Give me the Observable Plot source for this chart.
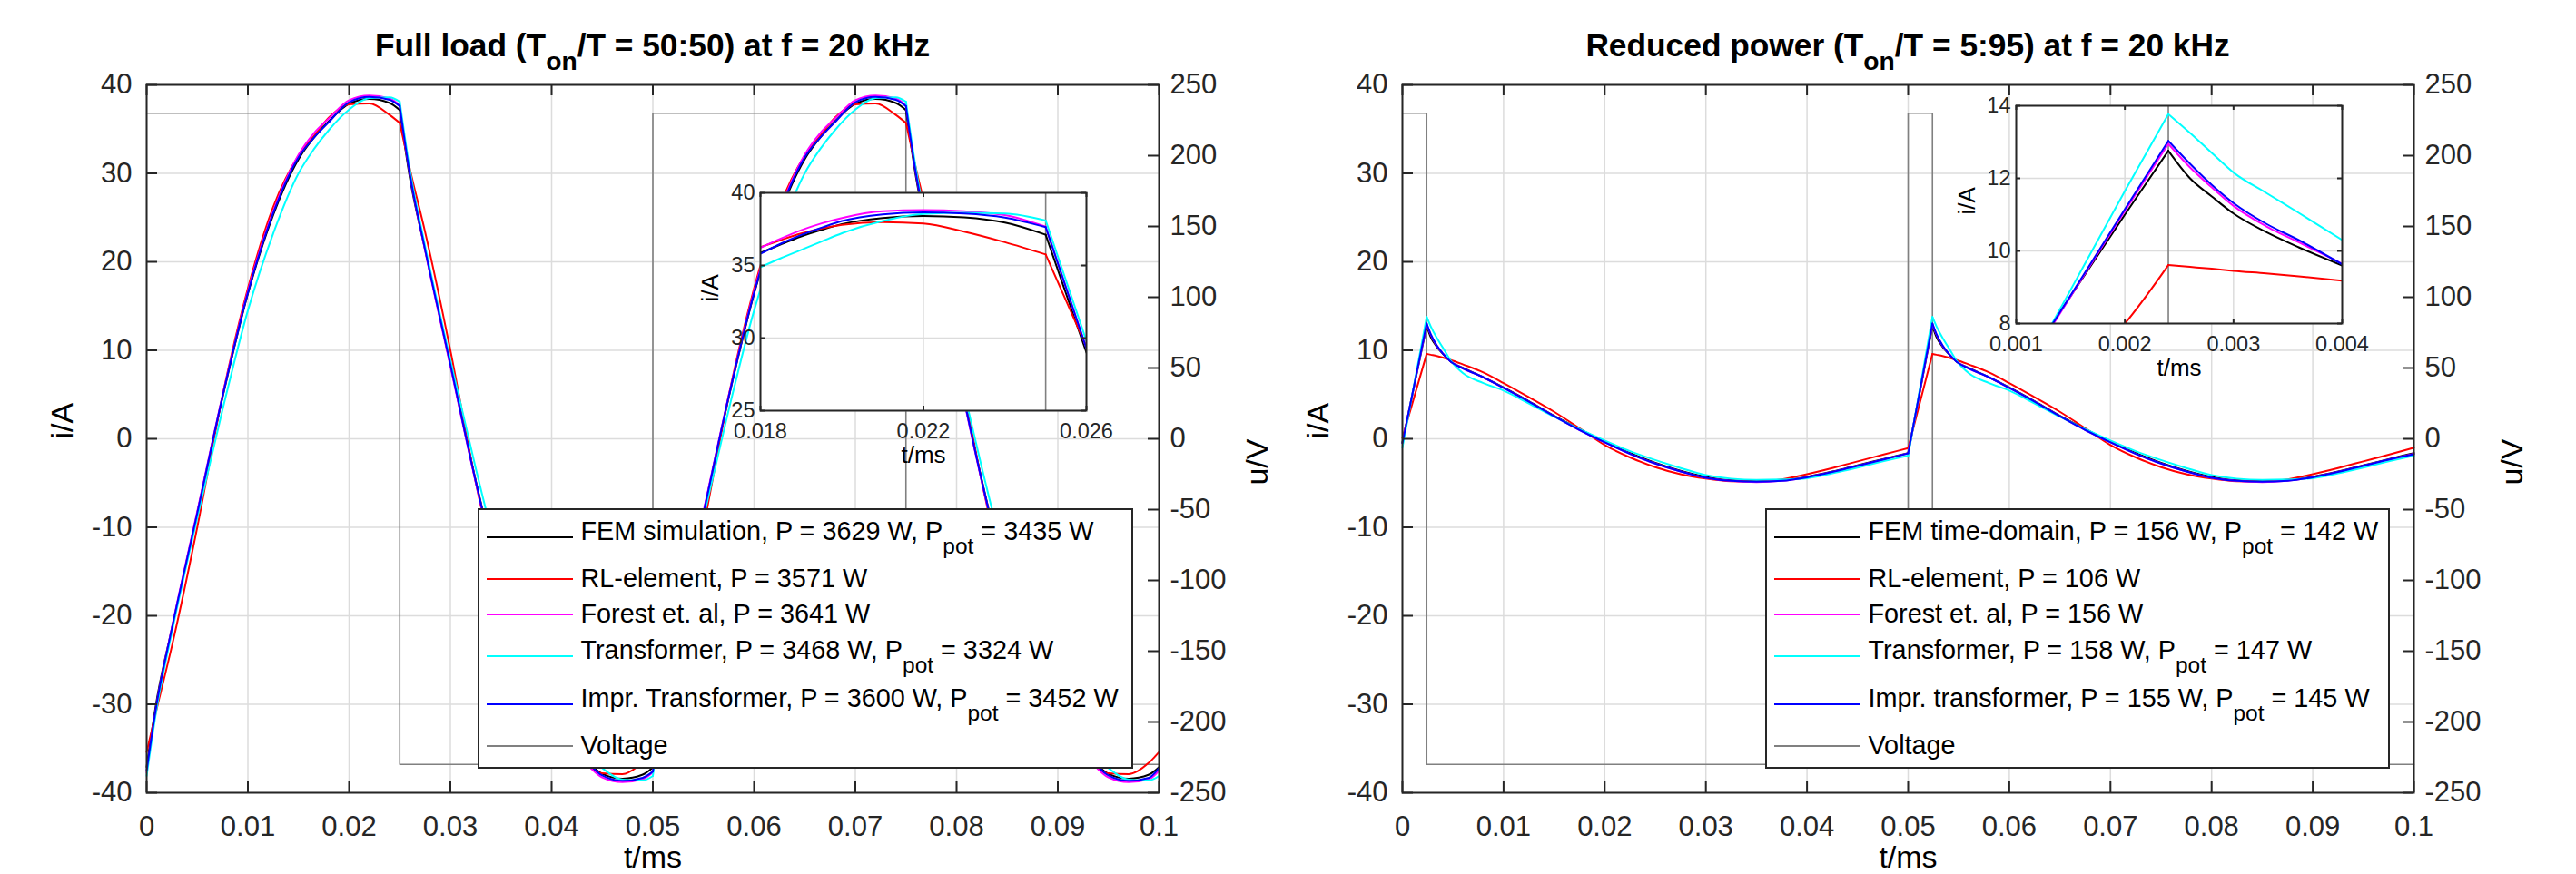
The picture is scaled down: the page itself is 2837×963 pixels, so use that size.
<!DOCTYPE html>
<html>
<head>
<meta charset="utf-8">
<script src="https://cdn.jsdelivr.net/npm/d3@7"></script>
<script src="https://cdn.jsdelivr.net/npm/@observablehq/plot@0.6"></script>
<style>
html, body { margin: 0; padding: 0; background: #fff; }
#root { position: relative; width: 2837px; height: 963px; overflow: hidden; background: #fff;
  font-family: "Liberation Sans", Arial, Helvetica, sans-serif; color: #000; }
.title { position: absolute; font-weight: bold; font-size: 35.3px; line-height: 1; white-space: nowrap; transform: translateX(-50%); }
.title .sub { position: relative; top: 15px; font-size: 0.8em; }
.legend { position: absolute; background: #fff; border: 2px solid #262626; box-sizing: border-box; }
.legend .ltext { position: absolute; font-size: 28.8px; line-height: 1; white-space: nowrap; }
.legend .sub { position: relative; top: 15px; font-size: 0.85em; }
</style>
</head>
<body>
<div id="root"></div>
<script>
// ---------------- data ----------------
const xTicks = [0, 0.01, 0.02, 0.03, 0.04, 0.05, 0.06, 0.07, 0.08, 0.09, 0.1];
const iTicks = [-40, -30, -20, -10, 0, 10, 20, 30, 40];
const uTicks = [-250, -200, -150, -100, -50, 0, 50, 100, 150, 200, 250];

const seriesColors = ["#000000", "#ff0000", "#ff00ff", "#00ffff", "#0000ff"];
const voltageColor = "#808080";

// Full load (50:50)
const tFull = [
  0, 0.001, 0.0025, 0.005, 0.0075, 0.01, 0.0125, 0.015, 0.0165, 0.018, 0.02, 0.022, 0.024, 0.025,
  0.026, 0.0275, 0.03, 0.0325, 0.035, 0.0375, 0.04, 0.0415, 0.043, 0.045, 0.047, 0.049, 0.05,
  0.051, 0.0525, 0.055, 0.0575, 0.06, 0.0625, 0.065, 0.0665, 0.068, 0.07, 0.072, 0.074, 0.075,
  0.076, 0.0775, 0.08, 0.0825, 0.085, 0.0875, 0.09, 0.0915, 0.093, 0.095, 0.097, 0.099, 0.1];
const fullFEM = [
  -37.1, -29.5, -21.4, -8.4, 4.7, 16.4, 25.3, 31.6, 34.0, 35.9, 37.85, 38.4, 37.95, 37.15,
  29.5, 21.4, 8.4, -4.7, -16.4, -25.3, -31.6, -34.0, -35.9, -37.85, -38.4, -37.95, -37.15,
  -29.5, -21.4, -8.4, 4.7, 16.4, 25.3, 31.6, 34.0, 35.9, 37.85, 38.4, 37.95, 37.15,
  29.5, 21.4, 8.4, -4.7, -16.4, -25.3, -31.6, -34.0, -35.9, -37.85, -38.4, -37.95, -37.1];
const fullRL = [
  -35.4, -30.5, -23.4, -10.0, 4.9, 17.0, 26.2, 32.0, 34.2, 36.3, 37.8, 37.9, 36.6, 35.7,
  30.5, 23.4, 10.0, -4.9, -17.0, -26.2, -32.0, -34.2, -36.3, -37.8, -37.9, -36.6, -35.7,
  -30.5, -23.4, -10.0, 4.9, 17.0, 26.2, 32.0, 34.2, 36.3, 37.8, 37.9, 36.6, 35.7,
  30.5, 23.4, 10.0, -4.9, -17.0, -26.2, -32.0, -34.2, -36.3, -37.8, -37.9, -36.6, -35.4];
const fullForest = [
  -37.7, -29.9, -21.3, -8.2, 4.9, 16.7, 25.7, 32.1, 34.5, 36.2, 38.27, 38.8, 38.47, 37.7,
  29.9, 21.3, 8.2, -4.9, -16.7, -25.7, -32.1, -34.5, -36.2, -38.27, -38.8, -38.47, -37.7,
  -29.9, -21.3, -8.2, 4.9, 16.7, 25.7, 32.1, 34.5, 36.2, 38.27, 38.8, 38.47, 37.7,
  29.9, 21.3, 8.2, -4.9, -16.7, -25.7, -32.1, -34.5, -36.2, -38.27, -38.8, -38.47, -37.5];
const fullTrans = [
  -38.1, -30.4, -21.8, -8.9, 3.3, 14.5, 23.2, 30.0, 32.7, 34.9, 37.2, 38.5, 38.6, 38.1,
  30.4, 21.8, 8.9, -3.3, -14.5, -23.2, -30.0, -32.7, -34.9, -37.2, -38.5, -38.6, -38.1,
  -30.4, -21.8, -8.9, 3.3, 14.5, 23.2, 30.0, 32.7, 34.9, 37.2, 38.5, 38.6, 38.1,
  30.4, 21.8, 8.9, -3.3, -14.5, -23.2, -30.0, -32.7, -34.9, -37.2, -38.5, -38.6, -38.1];
const fullImpr = [
  -37.5, -29.9, -21.4, -8.4, 4.8, 16.5, 25.5, 31.8, 34.0, 35.8, 38.05, 38.65, 38.3, 37.6,
  29.9, 21.4, 8.4, -4.8, -16.5, -25.5, -31.8, -34.0, -35.8, -38.05, -38.65, -38.3, -37.6,
  -29.9, -21.4, -8.4, 4.8, 16.5, 25.5, 31.8, 34.0, 35.8, 38.05, 38.65, 38.3, 37.6,
  29.9, 21.4, 8.4, -4.8, -16.5, -25.5, -31.8, -34.0, -35.8, -38.05, -38.65, -38.3, -37.2];
const voltTFull = [0, 0.025, 0.05, 0.075, 0.1];
const voltUFull = [230, -230, 230, -230, -230];

// Full load inset
const insetFullXTicks = [0.018, 0.022, 0.026];
const insetFullYTicks = [25, 30, 35, 40];
const insetFullT = [0.018, 0.0185, 0.019, 0.0195, 0.02, 0.021, 0.022, 0.023, 0.024, 0.025, 0.026];
const insetFullFEM    = [35.86, 36.45, 37.0, 37.45, 37.85, 38.27, 38.41, 38.31, 37.95, 37.12, 29.0];
const insetFullRL     = [36.26, 36.75, 37.2, 37.55, 37.8, 37.99, 37.89, 37.33, 36.6, 35.76, 29.4];
const insetFullForest = [36.22, 36.85, 37.43, 37.9, 38.27, 38.73, 38.81, 38.73, 38.47, 37.68, 29.3];
const insetFullTrans  = [34.88, 35.5, 36.07, 36.65, 37.22, 38.06, 38.54, 38.62, 38.58, 38.1, 29.8];
const insetFullImpr   = [35.8, 36.5, 37.1, 37.6, 38.06, 38.52, 38.66, 38.58, 38.3, 37.64, 29.28];

// Reduced power (5:95)
const tRed = [
  0, 0.0024, 0.0028, 0.0034, 0.004, 0.0048, 0.006, 0.008, 0.01, 0.0125, 0.015, 0.0175, 0.02, 0.0225,
  0.025, 0.0275, 0.03, 0.0325, 0.035, 0.0375, 0.04, 0.0425, 0.045, 0.0475,
  0.05, 0.0524, 0.0528, 0.0534, 0.054, 0.0548, 0.056, 0.058, 0.06, 0.0625, 0.065, 0.0675, 0.07, 0.0725,
  0.075, 0.0775, 0.08, 0.0825, 0.085, 0.0875, 0.09, 0.0925, 0.095, 0.0975, 0.1];
const redFEM = [
  -0.4, 12.76, 11.5, 10.4, 9.6, 8.7, 8.0, 6.95, 5.8, 4.25, 2.6, 1.1, -0.35, -1.6,
  -2.7, -3.6, -4.3, -4.7, -4.8, -4.7, -4.3, -3.7, -3.0, -2.3,
  -1.6, 12.76, 11.5, 10.4, 9.6, 8.7, 8.0, 6.95, 5.8, 4.25, 2.6, 1.1, -0.35, -1.6,
  -2.7, -3.6, -4.3, -4.7, -4.8, -4.7, -4.3, -3.7, -3.0, -2.3, -1.6];
const redRL = [
  0.1, 9.6, 9.5, 9.35, 9.18, 8.9, 8.4, 7.5, 6.3, 4.7, 3.05, 1.2, -0.7, -2.1,
  -3.2, -4.0, -4.5, -4.8, -4.85, -4.6, -4.0, -3.3, -2.55, -1.8,
  -1.05, 9.6, 9.5, 9.35, 9.18, 8.9, 8.4, 7.5, 6.3, 4.7, 3.05, 1.2, -0.7, -2.1,
  -3.2, -4.0, -4.5, -4.8, -4.85, -4.6, -4.0, -3.3, -2.55, -1.8, -1.0];
const redForest = [
  -0.5, 12.95, 11.75, 10.5, 9.65, 8.72, 7.95, 6.95, 5.75, 4.2, 2.55, 1.0, -0.4, -1.7,
  -2.8, -3.7, -4.4, -4.75, -4.9, -4.75, -4.35, -3.75, -3.05, -2.35,
  -1.65, 12.95, 11.75, 10.5, 9.65, 8.72, 7.95, 6.95, 5.75, 4.2, 2.55, 1.0, -0.4, -1.7,
  -2.8, -3.7, -4.4, -4.75, -4.9, -4.75, -4.35, -3.75, -3.05, -2.35, -1.7];
const redTrans = [
  -1.0, 13.77, 12.7, 11.4, 10.3, 8.8, 7.4, 6.3, 5.45, 4.0, 2.5, 1.1, -0.2, -1.4,
  -2.4, -3.3, -4.1, -4.5, -4.65, -4.6, -4.45, -3.9, -3.25, -2.55,
  -1.9, 13.77, 12.7, 11.4, 10.3, 8.8, 7.4, 6.3, 5.45, 4.0, 2.5, 1.1, -0.2, -1.4,
  -2.4, -3.3, -4.1, -4.5, -4.65, -4.6, -4.45, -3.9, -3.25, -2.55, -1.9];
const redImpr = [
  -0.5, 13.03, 11.82, 10.55, 9.63, 8.7, 7.95, 6.95, 5.75, 4.2, 2.55, 1.0, -0.4, -1.7,
  -2.8, -3.7, -4.4, -4.75, -4.85, -4.75, -4.35, -3.75, -3.05, -2.35,
  -1.65, 13.03, 11.82, 10.55, 9.63, 8.7, 7.95, 6.95, 5.75, 4.2, 2.55, 1.0, -0.4, -1.7,
  -2.8, -3.7, -4.4, -4.75, -4.85, -4.75, -4.35, -3.75, -3.05, -2.35, -1.75];
const voltTRed = [0, 0.0024, 0.05, 0.0524, 0.1];
const voltURed = [230, -230, 230, -230, -230];

// Reduced power inset
const insetRedXTicks = [0.001, 0.002, 0.003, 0.004];
const insetRedYTicks = [8, 10, 12, 14];
const insetRedT = [0.001, 0.002, 0.0024, 0.0026, 0.0028, 0.003, 0.0033, 0.0036, 0.004];
const insetRedFEM    = [6.5, 11.0, 12.76, 12.0, 11.5, 11.03, 10.52, 10.1, 9.6];
const insetRedRL     = [5.6, 8.0, 9.61, 9.56, 9.51, 9.45, 9.38, 9.3, 9.18];
const insetRedForest = [6.35, 11.1, 12.95, 12.3, 11.75, 11.24, 10.68, 10.24, 9.65];
const insetRedTrans  = [6.2, 11.65, 13.77, 13.25, 12.7, 12.16, 11.6, 11.05, 10.3];
const insetRedImpr   = [6.4, 11.15, 13.03, 12.4, 11.82, 11.32, 10.75, 10.3, 9.63];

// Texts
const titleFull = ["Full load (T", "on", "/T = 50:50) at f = 20 kHz"];
const titleRed = ["Reduced power (T", "on", "/T = 5:95) at f = 20 kHz"];
const legendFull = [
  ["FEM simulation, P = 3629 W, P", "pot", " = 3435 W"],
  ["RL-element, P = 3571 W"],
  ["Forest et. al, P = 3641 W"],
  ["Transformer, P = 3468 W, P", "pot", " = 3324 W"],
  ["Impr. Transformer, P = 3600 W, P", "pot", " = 3452 W"],
  ["Voltage"]];
const legendRed = [
  ["FEM time-domain, P = 156 W, P", "pot", " = 142 W"],
  ["RL-element, P = 106 W"],
  ["Forest et. al, P = 156 W"],
  ["Transformer, P = 158 W, P", "pot", " = 147 W"],
  ["Impr. transformer, P = 155 W, P", "pot", " = 145 W"],
  ["Voltage"]];

// ---------------- drawing ----------------
const root = document.getElementById("root");
const FONT = '"Liberation Sans", Arial, Helvetica, sans-serif';
const INK = "#262626", GRID = "#dcdcdc";
const fmt = d => String(d);

function put(el, left, top) {
  el.style.position = "absolute";
  el.style.left = left + "px";
  el.style.top = top + "px";
  root.appendChild(el);
  return el;
}
function st(fs) {
  return {fontFamily: FONT, fontSize: fs + "px", color: INK, background: "transparent", overflow: "visible", maxWidth: "none"};
}
// split a series into pieces between voltage switching instants (switch point shared by both pieces)
function segRows(t, v, switches) {
  const rows = [];
  t.forEach((tt, k) => {
    const seg = switches.filter(s => s < tt).length;
    rows.push({t: tt, v: v[k], seg});
    if (switches.includes(tt)) rows.push({t: tt, v: v[k], seg: seg + 1});
  });
  return rows;
}

function mainChart(o) {
  const H = 963, top = 93, bottom = 873;
  const fw = o.frameR - o.frameL, fh = bottom - top;
  const dims = {width: o.width, height: H, marginLeft: o.frameL - o.left, marginRight: o.left + o.width - o.frameR,
                marginTop: top, marginBottom: H - bottom};
  const xs = {domain: [0, 0.1]};
  const switches = o.voltT.slice(1, -1);
  put(Plot.plot({...dims, style: st(31), x: xs, y: {domain: [-40, 40]}, marks: [
    Plot.ruleX(xTicks, {stroke: GRID, strokeWidth: 1.5}),
    Plot.ruleY(iTicks, {stroke: GRID, strokeWidth: 1.5}),
    Plot.axisX(xTicks, {tickSize: 0, tickPadding: 25, tickFormat: fmt, label: null}),
    Plot.axisY(iTicks, {tickSize: 0, tickPadding: 16, tickFormat: fmt, label: null}),
    Plot.text(["i/A"], {text: d => d, frameAnchor: "left", dx: -92, rotate: -90, fontSize: 34, fill: "#000"}),
    Plot.text(["t/ms"], {text: d => d, frameAnchor: "bottom", dy: 82, fontSize: 34, fill: "#000"})
  ]}), o.left, 0);
  put(Plot.plot({...dims, style: st(31), x: {...xs, axis: null}, y: {domain: [-250, 250]}, marks: [
    Plot.line(o.voltT, {x: o.voltT, y: o.voltU, curve: "step-after", stroke: voltageColor, strokeWidth: 1.6}),
    Plot.axisY(uTicks, {anchor: "right", tickSize: 0, tickPadding: 12, tickFormat: fmt, label: null}),
    Plot.ruleY(uTicks, {insetLeft: fw - 12, stroke: INK, strokeWidth: 2}),
    Plot.text(["u/V"], {text: d => d, frameAnchor: "right", dx: 109, rotate: -90, fontSize: 34, fill: "#000"})
  ]}), o.left, 0);
  put(Plot.plot({...dims, style: st(31), x: {...xs, axis: null}, y: {domain: [-40, 40], axis: null}, marks: [
    ...o.series.map((s, k) => Plot.line(segRows(o.t, s, switches),
      {x: "t", y: "v", z: "seg", curve: "monotone-x", stroke: seriesColors[k], strokeWidth: 2})),
    Plot.frame({stroke: INK, strokeWidth: 2}),
    Plot.ruleX(xTicks, {insetTop: fh - 12, stroke: INK, strokeWidth: 2}),
    Plot.ruleX(xTicks, {insetBottom: fh - 12, stroke: INK, strokeWidth: 2}),
    Plot.ruleY(iTicks, {insetRight: fw - 12, stroke: INK, strokeWidth: 2})
  ]}), o.left, 0);
}

function insetChart(o) {
  const fw = o.fr - o.fl, fh = o.fb - o.ft;
  const switches = o.voltT.filter(t => t > o.xDomain[0] && t < o.xDomain[1]);
  put(Plot.plot({
    width: o.width, height: o.height,
    marginLeft: o.fl - o.left, marginRight: o.left + o.width - o.fr,
    marginTop: o.ft - o.top, marginBottom: o.top + o.height - o.fb,
    style: st(23.5), x: {domain: o.xDomain}, y: {domain: o.yDomain},
    marks: [
      Plot.frame({fill: "#ffffff", stroke: "none"}),
      Plot.ruleX(o.xTicks, {stroke: GRID, strokeWidth: 1.5}),
      Plot.ruleY(o.yTicks, {stroke: GRID, strokeWidth: 1.5}),
      Plot.ruleX(switches, {stroke: voltageColor, strokeWidth: 1.6}),
      ...o.series.map((s, k) => Plot.line(segRows(o.t, s, switches),
        {x: "t", y: "v", z: "seg", curve: "monotone-x", stroke: seriesColors[k], strokeWidth: 2, clip: true})),
      Plot.frame({stroke: INK, strokeWidth: 2}),
      Plot.ruleX(o.xTicks, {insetTop: fh - 5, stroke: INK, strokeWidth: 2}),
      Plot.ruleX(o.xTicks, {insetBottom: fh - 5, stroke: INK, strokeWidth: 2}),
      Plot.ruleY(o.yTicks, {insetRight: fw - 5, stroke: INK, strokeWidth: 2}),
      Plot.ruleY(o.yTicks, {insetLeft: fw - 5, stroke: INK, strokeWidth: 2}),
      Plot.axisX(o.xTicks, {tickSize: 0, tickPadding: 14, tickFormat: fmt, label: null}),
      Plot.axisY(o.yTicks, {tickSize: 0, tickPadding: 6, tickFormat: fmt, label: null}),
      Plot.text(["i/A"], {text: d => d, frameAnchor: "left", dx: o.iDx, rotate: -90, fontSize: 26, fill: "#000"}),
      Plot.text(["t/ms"], {text: d => d, frameAnchor: "bottom", dy: 57, fontSize: 26, fill: "#000"})
    ]}), o.left, o.top);
}

function addRich(el, parts) {
  el.appendChild(document.createTextNode(parts[0]));
  if (parts.length > 1) {
    const s = document.createElement("span");
    s.className = "sub";
    s.textContent = parts[1];
    el.appendChild(s);
    el.appendChild(document.createTextNode(parts[2]));
  }
}

function title(parts, cx) {
  const d = document.createElement("div");
  d.className = "title";
  addRich(d, parts);
  d.style.left = cx + "px";
  d.style.top = (62 - 0.8465 * 35.3) + "px";
  root.appendChild(d);
}

function legend(labels, left, top, width, height) {
  const box = document.createElement("div");
  box.className = "legend";
  box.style.left = left + "px"; box.style.top = top + "px";
  box.style.width = width + "px"; box.style.height = height + "px";
  const colors = [...seriesColors, voltageColor];
  let y = 3;
  labels.forEach((lab, k) => {
    const hasSub = lab.length > 1;
    const h = hasSub ? 53 : 39;
    const cy = y + h / 2;
    const line = document.createElement("div");
    line.style.cssText = `position:absolute;left:8px;width:95px;height:2px;top:${cy - 1}px;background:${colors[k]}`;
    box.appendChild(line);
    const txt = document.createElement("div");
    txt.className = "ltext";
    const baseline = cy + (hasSub ? 4 : 10);
    txt.style.top = (baseline - 0.8465 * 28.8) + "px";
    txt.style.left = "111.5px";
    addRich(txt, lab);
    box.appendChild(txt);
    y += h;
  });
  root.appendChild(box);
}

// Left chart
mainChart({left: 0, width: 1400, frameL: 161, frameR: 1276, t: tFull,
  series: [fullFEM, fullRL, fullForest, fullTrans, fullImpr], voltT: voltTFull, voltU: voltUFull});
insetChart({left: 740, top: 190, width: 500, height: 350, fl: 837, fr: 1196, ft: 212, fb: 452,
  xDomain: [0.018, 0.026], yDomain: [25, 40], xTicks: insetFullXTicks, yTicks: insetFullYTicks,
  t: insetFullT, series: [insetFullFEM, insetFullRL, insetFullForest, insetFullTrans, insetFullImpr],
  voltT: voltTFull, iDx: -55});
legend(legendFull, 526, 560, 722, 287);
title(titleFull, 718.5);

// Right chart
mainChart({left: 1400, width: 1437, frameL: 1544, frameR: 2658, t: tRed,
  series: [redFEM, redRL, redForest, redTrans, redImpr], voltT: voltTRed, voltU: voltURed});
insetChart({left: 2120, top: 90, width: 520, height: 350, fl: 2220, fr: 2579, ft: 116, fb: 356,
  xDomain: [0.001, 0.004], yDomain: [8, 14], xTicks: insetRedXTicks, yTicks: insetRedYTicks,
  t: insetRedT, series: [insetRedFEM, insetRedRL, insetRedForest, insetRedTrans, insetRedImpr],
  voltT: voltTRed, iDx: -54});
legend(legendRed, 1944, 560, 688, 287);
title(titleRed, 2101);
</script>
</body>
</html>
